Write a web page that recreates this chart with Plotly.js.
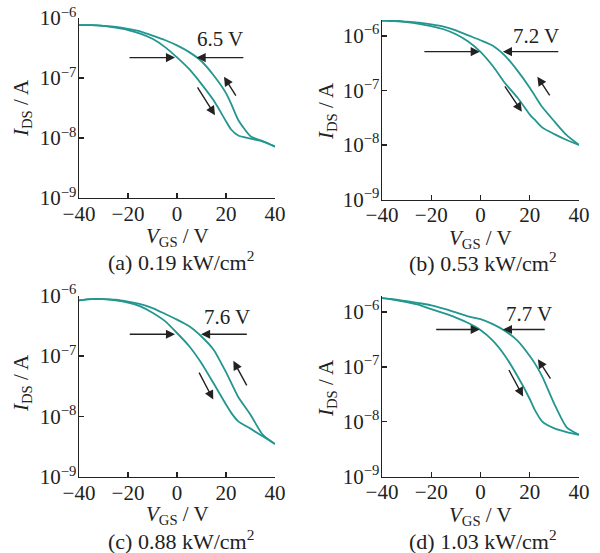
<!DOCTYPE html>
<html>
<head>
<meta charset="utf-8">
<script src="https://cdn.plot.ly/plotly-3.0.1.min.js"></script>
<style>html,body{margin:0;padding:0;background:#fff;}#chart{width:600px;height:553px;}</style>
</head>
<body>
<div id="chart"></div>
<script>
// Gate voltage sweep points (V)
const vgs = [-40,-35,-30,-25,-20,-15,-10,-5,0,5,10,15,20,22,25,30,35,40];

// Drain current (A): forward sweep (-40 -> 40) and backward sweep (40 -> -40)
const a_fwd = [7.6e-7,7.6e-7,7.4e-7,6.9e-7,6.3e-7,5.5e-7,4.5e-7,3.3e-7,2.2e-7,1.4e-7,7.9e-8,4.2e-8,1.9e-8,1.4e-8,1.1e-8,9.8e-9,8.7e-9,7.2e-9];
const a_bwd = [7.6e-7,7.6e-7,7.4e-7,7.1e-7,6.6e-7,6.0e-7,5.1e-7,4.3e-7,3.5e-7,2.7e-7,1.9e-7,1.1e-7,5.6e-8,3.8e-8,2.0e-8,1.07e-8,8.9e-9,7.2e-9];

const b_fwd = [1.91e-6,1.86e-6,1.78e-6,1.66e-6,1.51e-6,1.32e-6,1.07e-6,7.9e-7,5.1e-7,2.8e-7,1.35e-7,7.4e-8,3.6e-8,2.9e-8,2.1e-8,1.58e-8,1.23e-8,1.0e-8];
const b_bwd = [1.91e-6,1.91e-6,1.82e-6,1.74e-6,1.62e-6,1.48e-6,1.26e-6,1.02e-6,8.3e-7,6.6e-7,4.3e-7,2.3e-7,1.12e-7,8.1e-8,5.0e-8,2.7e-8,1.51e-8,1.0e-8];

const c_fwd = [8.3e-7,8.7e-7,8.7e-7,8.3e-7,7.6e-7,6.6e-7,5.2e-7,3.8e-7,2.4e-7,1.45e-7,7.6e-8,3.5e-8,1.58e-8,1.17e-8,8.3e-9,6.3e-9,4.7e-9,3.5e-9];
const c_bwd = [8.3e-7,8.7e-7,8.7e-7,8.5e-7,7.9e-7,7.2e-7,6.2e-7,5.0e-7,4.0e-7,3.1e-7,2.1e-7,1.26e-7,5.4e-8,3.7e-8,2.1e-8,1.07e-8,5.0e-9,3.5e-9];

const d_fwd = [1.78e-6,1.66e-6,1.51e-6,1.35e-6,1.12e-6,9.5e-7,7.9e-7,6.3e-7,4.7e-7,3.0e-7,1.58e-7,6.8e-8,2.6e-8,1.66e-8,1.02e-8,7.6e-9,6.5e-9,5.8e-9];
const d_bwd = [1.78e-6,1.70e-6,1.58e-6,1.45e-6,1.32e-6,1.15e-6,9.8e-7,8.3e-7,7.4e-7,6.0e-7,4.5e-7,3.0e-7,1.58e-7,1.17e-7,6.8e-8,2.1e-8,7.9e-9,5.8e-9];

// Hysteresis labels and panel captions
const hysteresis = ["6.5 V","7.2 V","7.6 V","7.7 V"];
const captions = ["(a) 0.19 kW/cm<sup>2</sup>","(b) 0.53 kW/cm<sup>2</sup>","(c) 0.88 kW/cm<sup>2</sup>","(d) 1.03 kW/cm<sup>2</sup>"];
const xTicks = [-40,-20,0,20,40];
const yTicks = [1e-9,1e-8,1e-7,1e-6];
const yTickText = ["10<sup>−9</sup>","10<sup>−8</sup>","10<sup>−7</sup>","10<sup>−6</sup>"];

const FONT = "'Liberation Serif'";
const TEAL = "#23968f";
const INK = "#222";

const series = [[a_fwd,a_bwd],[b_fwd,b_bwd],[c_fwd,c_bwd],[d_fwd,d_bwd]];
const traces = [];
series.forEach((pair, i) => {
  const sfx = i === 0 ? "" : String(i+1);
  pair.forEach(ys => {
    traces.push({
      x: vgs, y: ys, xaxis: "x"+sfx, yaxis: "y"+sfx,
      type: "scatter", mode: "lines",
      line: {color: TEAL, width: 1.8, shape: "spline", smoothing: 0.6},
      hoverinfo: "skip", showlegend: false
    });
  });
});

// Layout geometry (pixels -> paper fractions)
const W = 600, H = 553;
const panels = [
  {xd:[79,275],  yd:[198,18],    yr:[-9,-6]},
  {xd:[382,579], yd:[199.5,20],  yr:[-9,-5.71]},
  {xd:[79,275],  yd:[477,295.5], yr:[-9,-6]},
  {xd:[382,579], yd:[476.7,296], yr:[-9,-5.71]}
];
// annotation geometry per panel (y in log10 units)
const marks = [
  {lab:[17.5,-6.35], hy:-6.66, hl:[-20,-0.8], hr:[27.7,8.0], dn:[[8.0,-7.13],[15.5,-7.62]], up:[[24.4,-7.32],[19.2,-6.98]]},
  {lab:[22.7,-6.01], hy:-6.29, hl:[-23.4,-0.3], hr:[32.2,9.1], dn:[[9.5,-6.90],[16.8,-7.39]], up:[[28.5,-7.12],[23.1,-6.75]]},
  {lab:[20.3,-6.35], hy:-6.64, hl:[-19.9,-0.8], hr:[29.1,9.8], dn:[[8.7,-7.25],[14.8,-7.72]], up:[[28.8,-7.51],[23.0,-7.08]]},
  {lab:[19.6,-6.03], hy:-6.32, hl:[-18.6,-0.3], hr:[26.7,9.1], dn:[[11.2,-7.03],[17.3,-7.54]], up:[[28.8,-7.24],[23.3,-6.86]]}
];
const titlePos = [
  {xt:[177,237], cap:[181,261], yt:[22,108]},
  {xt:[480,239], cap:[483,262], yt:[327,111]},
  {xt:[177,515], cap:[181,540], yt:[22,383]},
  {xt:[480,516], cap:[483,540], yt:[327,388]}
];

const layout = {
  width: W, height: H,
  margin: {l:0, r:0, t:0, b:0},
  paper_bgcolor: "#fff", plot_bgcolor: "rgba(0,0,0,0)",
  font: {family: FONT, size: 21, color: INK},
  showlegend: false,
  annotations: []
};

panels.forEach((p, i) => {
  const sfx = i === 0 ? "" : String(i+1);
  layout["xaxis"+sfx] = {
    domain: [p.xd[0]/W, p.xd[1]/W], range: [-40, 40], anchor: "y"+sfx,
    showgrid: false, zeroline: false, showline: true, linecolor: INK, linewidth: 1.4,
    ticks: "inside", ticklen: 5, tickwidth: 1.4, tickcolor: INK, ticklabelstandoff: -4,
    tickvals: xTicks, tickfont: {family: FONT, size: 21, color: INK}
  };
  layout["yaxis"+sfx] = {
    domain: [1 - p.yd[0]/H, 1 - p.yd[1]/H], type: "log", range: p.yr, anchor: "x"+sfx,
    showgrid: false, zeroline: false, showline: true, linecolor: INK, linewidth: 1.4,
    ticks: "inside", ticklen: 5, tickwidth: 1.4, tickcolor: INK, ticklabelstandoff: -3,
    tickvals: yTicks, ticktext: yTickText, tickfont: {family: FONT, size: 21, color: INK}
  };
  const m = marks[i];
  const xr = "x"+sfx, yr = "y"+sfx;
  const arrow = (tail, tip) => ({
    xref: xr, yref: yr, axref: xr, ayref: yr,
    x: tip[0], y: tip[1], ax: tail[0], ay: tail[1],
    text: "", showarrow: true, arrowhead: 2, arrowsize: 1.3, arrowwidth: 1.4, arrowcolor: INK
  });
  layout.annotations.push(
    {xref: xr, yref: yr, x: m.lab[0], y: m.lab[1], text: hysteresis[i], showarrow: false,
     font: {family: FONT, size: 21, color: INK}, xanchor: "center", yanchor: "middle"},
    arrow([m.hl[0], m.hy], [m.hl[1], m.hy]),
    arrow([m.hr[0], m.hy], [m.hr[1], m.hy]),
    arrow(m.dn[0], m.dn[1]),
    arrow(m.up[0], m.up[1])
  );
  const t = titlePos[i];
  layout.annotations.push(
    {xref: "paper", yref: "paper", x: t.xt[0]/W, y: 1 - t.xt[1]/H, xanchor: "center", yanchor: "middle",
     text: "<i>V</i><sub>GS</sub> / V", showarrow: false, font: {family: FONT, size: 21, color: INK}},
    {xref: "paper", yref: "paper", x: t.cap[0]/W, y: 1 - t.cap[1]/H, xanchor: "center", yanchor: "middle",
     text: captions[i], showarrow: false, font: {family: FONT, size: 22, color: INK}},
    {xref: "paper", yref: "paper", x: t.yt[0]/W, y: 1 - t.yt[1]/H, xanchor: "center", yanchor: "middle",
     text: "<i>I</i><sub>DS</sub> / A", textangle: -90, showarrow: false, font: {family: FONT, size: 21, color: INK}}
  );
});

Plotly.newPlot("chart", traces, layout, {staticPlot: true, displayModeBar: false});
</script>
</body>
</html>
